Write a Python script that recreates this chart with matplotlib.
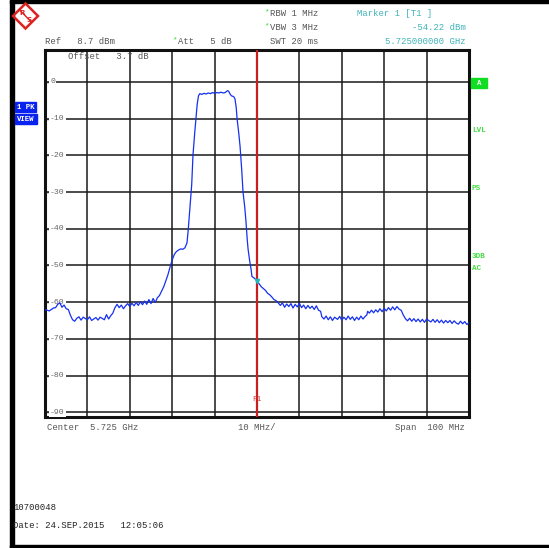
import numpy as np
import matplotlib
matplotlib.use("Agg")
import matplotlib.pyplot as plt
from matplotlib.patches import Rectangle, Polygon

# ---- data (frequency offset from 5.725 GHz in MHz, level in dBm) ----
freq_offset_mhz = [
    -50, -49, -48, -47.5, -47, -46.5, -46, -45.5, -45, -44.5, -44, -43.5, -43, -42.5, -42, -41.5,
    -41, -40, -39.5, -39, -38, -37.5, -37, -36, -35.5, -35, -34.5, -34, -33.5, -33, -32.5, -32,
    -31.5, -31, -30.5, -30, -29.5, -29, -28.5, -28, -27.5, -27, -26.5, -26, -25.5, -25, -24.5,
    -24, -23.5, -23, -22.5, -22, -21.5, -21, -20.5, -20, -19.5, -19, -18.5, -18, -17.5, -17,
    -16.5, -16.2, -15.8, -15.4, -15.1, -14.7, -14.4, -14.1, -13.8, -13.5, -13, -12.5, -12, -11.5,
    -11, -10.5, -10, -9.5, -9, -8.5, -8, -7.5, -7, -6.7, -6.3, -6, -5.5, -5.2, -4.9, -4.7, -4.3,
    -4, -3.6, -3.3, -2.9, -2.6, -2.3, -2.1, -1.7, -1.4, -1.2, -0.6, 0, 0.5, 1, 1.5, 2, 2.5, 3,
    3.5, 4, 4.5, 5, 5.5, 6, 6.5, 7, 7.5, 8, 8.5, 9, 9.5, 10, 10.5, 11, 11.5, 12, 12.5, 13, 13.5,
    14, 14.5, 15, 15.3, 15.8, 16.3, 16.8, 17.3, 17.8, 18.3, 19, 19.5, 20, 20.5, 21, 21.5, 22,
    22.5, 23, 23.5, 24, 24.5, 25, 25.5, 25.9, 26.1, 26.5, 27, 27.5, 28, 28.5, 29, 29.5, 30, 30.5,
    31, 31.5, 32, 32.5, 33, 33.5, 34, 34.5, 35, 35.5, 36, 36.5, 37, 37.5, 38, 38.5, 39, 39.5, 40,
    41, 41.5, 42, 42.5, 43, 43.5, 44, 44.5, 45, 45.5, 46, 46.5, 47, 47.5, 48, 48.5, 49, 49.5, 50,
]
level_dbm = [
    -62.0, -62.4, -61.6, -61.5, -60.6, -60.2, -61.4, -60.8, -61.8, -62.0, -63.6, -64.8, -65.2, -64.4, -64.0, -64.9,
    -64.1, -64.8, -64.0, -65.0, -64.2, -64.9, -64.1, -64.8, -63.4, -64.6, -63.7, -63.0, -61.5, -60.6, -61.5, -60.8,
    -61.8, -61.0, -60.4, -61.2, -60.3, -61.0, -60.1, -60.9, -59.9, -60.7, -59.7, -60.6, -59.3, -60.4, -59.0,
    -60.1, -58.8, -58.2, -57.0, -55.8, -54.2, -52.5, -50.4, -48.5, -47.0, -46.2, -45.8, -45.5, -45.6, -45.2,
    -43.8, -40.0, -34.0, -28.0, -20.0, -14.0, -10.0, -6.0, -3.8, -3.2, -3.4, -3.1, -3.3, -3.0,
    -3.2, -2.9, -3.1, -2.9, -3.0, -2.8, -3.0, -2.9, -2.4, -2.5, -3.4, -3.8, -4.0, -4.6, -7.0, -10.0, -14.0,
    -17.5, -24.0, -30.0, -34.0, -38.0, -43.0, -45.6, -49.0, -51.0, -53.0, -53.5, -54.2, -55.0, -55.8, -56.3, -56.8, -57.6, -58.0,
    -58.6, -59.3, -59.6, -60.2, -60.9, -60.2, -61.4, -60.5, -61.2, -60.4, -61.6, -60.6, -61.3, -60.3, -61.5, -60.8, -61.8, -60.9, -61.7, -61.1, -62.0,
    -61.0, -62.2, -62.5, -64.0, -64.6, -63.8, -64.8, -64.0, -65.0, -64.1, -64.7, -63.9, -64.9, -64.1, -64.8, -63.8, -64.7,
    -64.0, -65.0, -64.1, -64.8, -63.8, -64.6, -63.9, -63.5, -62.5, -63.0, -62.2, -62.9, -62.1, -62.7, -61.8, -62.6, -61.7, -62.4,
    -61.5, -62.2, -61.3, -62.1, -61.2, -61.9, -62.2, -63.5, -64.5, -65.1, -64.4, -65.2, -64.5, -65.3, -64.6, -65.4, -64.7, -65.5, -64.6,
    -65.4, -64.7, -65.5, -64.8, -65.6, -64.9, -65.7, -65.0, -65.6, -65.0, -65.8, -65.1, -65.7, -66.0, -65.2, -65.9, -65.3, -66.1, -65.6,
]
y_ticks = [0, -10, -20, -30, -40, -50, -60, -70, -80, -90]
x_ticks = [-50, -40, -30, -20, -10, 0, 10, 20, 30, 40, 50]
marker_offset = 0.0
marker_level = -54.22

MONO = "Liberation Mono"
GRAY = "#555555"
CYAN = "#3fb3b8"
GREEN = "#33dd33"

fig = plt.figure(figsize=(5.49, 5.48), dpi=100)
W, H = 549, 548
ax = fig.add_axes([45 / W, 1 - 417 / H, 424 / W, 367 / H])
ax.set_xlim(-50, 50)
ax.set_ylim(-91.3, 8.7)
ax.set_xticks(x_ticks)
ax.set_yticks(y_ticks)
ax.grid(True, color="#1a1a1a", lw=1.1)
ax.tick_params(axis="x", length=0, labelbottom=False)
ax.tick_params(axis="y", length=3, direction="in", width=1, color="#333", labelleft=False)
for s in ax.spines.values():
    s.set_linewidth(2.2)
    s.set_color("#111")

for yv in y_ticks:
    ax.text(-48.8, yv, str(yv), ha="left", va="center", fontsize=5.9, color="#666",
            family=MONO, zorder=3,
            bbox=dict(facecolor="white", edgecolor="none", pad=1.0))

ax.axvline(marker_offset, color="#c81e1e", lw=1.6, zorder=4)
ax.plot(freq_offset_mhz, level_dbm, color="#1530f0", lw=0.9, zorder=5)
ax.plot([marker_offset], [marker_level], marker="v", ms=3, color="#22bbbb", zorder=6)
ax.text(marker_offset, -86.6, "F1", ha="center", va="center", fontsize=5.6, color="#e03030", family=MONO, zorder=6)
ax.text(-44.6, 6.8, "Offset   3.7 dB", ha="left", va="center", fontsize=6.4, color=GRAY, family=MONO, zorder=6)

# ---- overlay in pixel coordinates ----
ov = fig.add_axes([0, 0, 1, 1], zorder=10)
ov.set_xlim(0, W)
ov.set_ylim(H, 0)
ov.axis("off")
ov.patch.set_alpha(0)

ov.add_patch(Rectangle((10, 0), 4, H, color="black"))
ov.add_patch(Rectangle((10, 0), W - 10, 2.5, color="black"))
ov.add_patch(Rectangle((10, 545), W - 10, 3, color="black"))

# R&S logo
cx, cy, r = 25.5, 16, 12.5
ov.add_patch(Polygon([(cx, cy - r), (cx + r, cy), (cx, cy + r), (cx - r, cy)], closed=True,
                     fill=False, edgecolor="#dd2222", lw=1.8))
ov.plot([cx - r * 0.5, cx + r * 0.5], [cy - r * 0.5, cy + r * 0.5], color="#dd2222", lw=1.0)
ov.text(cx - 3.5, cy - 3, "R", ha="center", va="center", fontsize=5.2, color="#dd2222", family="DejaVu Sans", weight="bold")
ov.text(cx + 3.5, cy + 3.5, "S", ha="center", va="center", fontsize=5.2, color="#dd2222", family="DejaVu Sans", weight="bold")

def t(x, y, s, color=GRAY, ha="left", fs=6.4):
    ov.text(x, y, s, ha=ha, va="center", fontsize=fs, color=color, family=MONO)

t(45, 41, "Ref   8.7 dBm")
t(172, 40, "*", color=GREEN, fs=5.5)
t(178, 41, "Att   5 dB")
t(264, 12, "*", color=GREEN, fs=5.5)
t(270, 13, "RBW 1 MHz")
t(264, 26, "*", color=GREEN, fs=5.5)
t(270, 27, "VBW 3 MHz")
t(270, 41, "SWT 20 ms")
t(357, 14, "Marker 1 [T1 ]", color=CYAN)
t(466, 27, "-54.22 dBm", color=CYAN, ha="right")
t(466, 41, "5.725000000 GHz", color=CYAN, ha="right")

ov.add_patch(Rectangle((15, 102), 21, 10, color="#0a22f0"))
ov.add_patch(Rectangle((15, 114), 22, 10, color="#0a22f0"))
ov.text(25.5, 107.3, "1 PK", ha="center", va="center", fontsize=5.3, color="white", family=MONO, weight="bold")
ov.text(26, 119.3, "VIEW", ha="center", va="center", fontsize=5.3, color="white", family=MONO, weight="bold")

ov.add_patch(Rectangle((471, 78), 16, 10, color="#11dd22"))
ov.text(479, 83.3, "A", ha="center", va="center", fontsize=5.3, color="white", family=MONO, weight="bold")
for (yy, s) in [(130, "LVL"), (188, "PS"), (257, "3DB"), (269, "AC")]:
    ov.text(472, yy, s, ha="left", va="center", fontsize=5.5, color="#44dd44", family=MONO, weight="bold")

t(47, 427, "Center  5.725 GHz")
t(238, 427, "10 MHz/")
t(465, 427, "Span  100 MHz", ha="right")
t(13, 508, "10700048", color="#222")
t(13, 526, "Date: 24.SEP.2015   12:05:06", color="#222")

fig.savefig("out.png", dpi=100, facecolor="white")
